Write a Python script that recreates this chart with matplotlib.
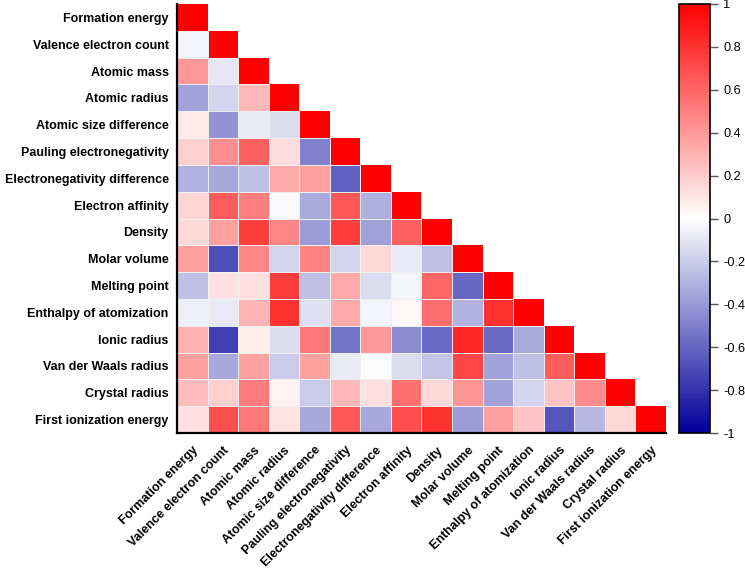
import numpy as np
import matplotlib
matplotlib.use("Agg")
import matplotlib.pyplot as plt
from matplotlib.colors import LinearSegmentedColormap

plt.rcParams["font.family"] = ["Liberation Sans", "DejaVu Sans"]

features = [
    "Formation energy", "Valence electron count", "Atomic mass", "Atomic radius",
    "Atomic size difference", "Pauling electronegativity", "Electronegativity difference",
    "Electron affinity", "Density", "Molar volume", "Melting point",
    "Enthalpy of atomization", "Ionic radius", "Van der Waals radius",
    "Crystal radius", "First ionization energy",
]

# lower triangle rows (below the diagonal)
row_1 = [-0.04]
row_2 = [0.40, -0.10]
row_3 = [-0.36, -0.17, 0.28]
row_4 = [0.09, -0.42, -0.08, -0.14]
row_5 = [0.18, 0.44, 0.62, 0.14, -0.50]
row_6 = [-0.30, -0.34, -0.25, 0.33, 0.37, -0.62]
row_7 = [0.17, 0.64, 0.50, -0.02, -0.33, 0.65, -0.31]
row_8 = [0.15, 0.37, 0.75, 0.47, -0.39, 0.75, -0.37, 0.62]
row_9 = [0.37, -0.69, 0.47, -0.17, 0.48, -0.17, 0.15, -0.09, -0.25]
row_10 = [-0.25, 0.12, 0.12, 0.76, -0.25, 0.33, -0.14, -0.04, 0.60, -0.59]
row_11 = [-0.07, -0.09, 0.29, 0.80, -0.12, 0.33, -0.04, 0.03, 0.57, -0.30, 0.81]
row_12 = [0.31, -0.75, 0.07, -0.14, 0.53, -0.55, 0.40, -0.45, -0.58, 0.84, -0.58, -0.33]
row_13 = [0.37, -0.34, 0.36, -0.21, 0.36, -0.08, 0.00, -0.14, -0.23, 0.72, -0.36, -0.25, 0.64]
row_14 = [0.26, 0.18, 0.51, 0.05, -0.21, 0.28, 0.12, 0.56, 0.15, 0.42, -0.36, -0.17, 0.23, 0.45]
row_15 = [0.12, 0.69, 0.53, 0.11, -0.34, 0.65, -0.34, 0.70, 0.80, -0.39, 0.37, 0.23, -0.67, -0.28, 0.15]

rows = [[], row_1, row_2, row_3, row_4, row_5, row_6, row_7, row_8, row_9,
        row_10, row_11, row_12, row_13, row_14, row_15]

n = len(features)
corr = np.full((n, n), np.nan)
for i, r in enumerate(rows):
    corr[i, :i] = r
    corr[i, i] = 1.0
data = np.ma.masked_invalid(corr)

cmap = LinearSegmentedColormap.from_list(
    "corr", [(0.0, "#00009a"), (0.5, "#ffffff"), (1.0, "#ff0000")]
)

fig = plt.figure(figsize=(7.45, 5.71), dpi=100)
W, H = 745, 571
top, bot = 4, 433
ax = fig.add_axes([177 / W, 1 - bot / H, (666 - 177) / W, (bot - top) / H])
cax = fig.add_axes([679 / W, 1 - bot / H, (710 - 679) / W, (bot - top) / H])

mesh = ax.pcolormesh(data, cmap=cmap, vmin=-1, vmax=1, edgecolors="none")

# thin light cell borders, lower triangle only
grid_kw = dict(color="#f0f0f0", lw=0.7, solid_capstyle="butt")
for k in range(1, n):
    ax.plot([0, k], [k, k], **grid_kw)
    ax.plot([k, k], [k, n], **grid_kw)

ax.set_xlim(0, n)
ax.set_ylim(n, 0)
ax.set_xticks(np.arange(n) + 0.5)
ax.set_yticks(np.arange(n) + 0.5)
ax.set_xticklabels(features, rotation=45, ha="right", rotation_mode="anchor",
                   fontsize=9.0, fontweight="bold")
ax.set_yticklabels(features, fontsize=9.0, fontweight="bold")
ax.tick_params(axis="y", length=0, pad=6)
ax.tick_params(axis="x", length=0, pad=8)
for side in ["top", "right"]:
    ax.spines[side].set_visible(False)
for side in ["left", "bottom"]:
    ax.spines[side].set_linewidth(1.6)

cb = fig.colorbar(mesh, cax=cax, ticks=np.linspace(-1, 1, 11))
cb.ax.set_yticklabels(["-1", "-0.8", "-0.6", "-0.4", "-0.2", "0",
                       "0.2", "0.4", "0.6", "0.8", "1"])
cb.ax.tick_params(labelsize=9.2, length=6, width=1, color="#555555")
cb.outline.set_linewidth(1.2)

fig.savefig("out.png", dpi=100)
